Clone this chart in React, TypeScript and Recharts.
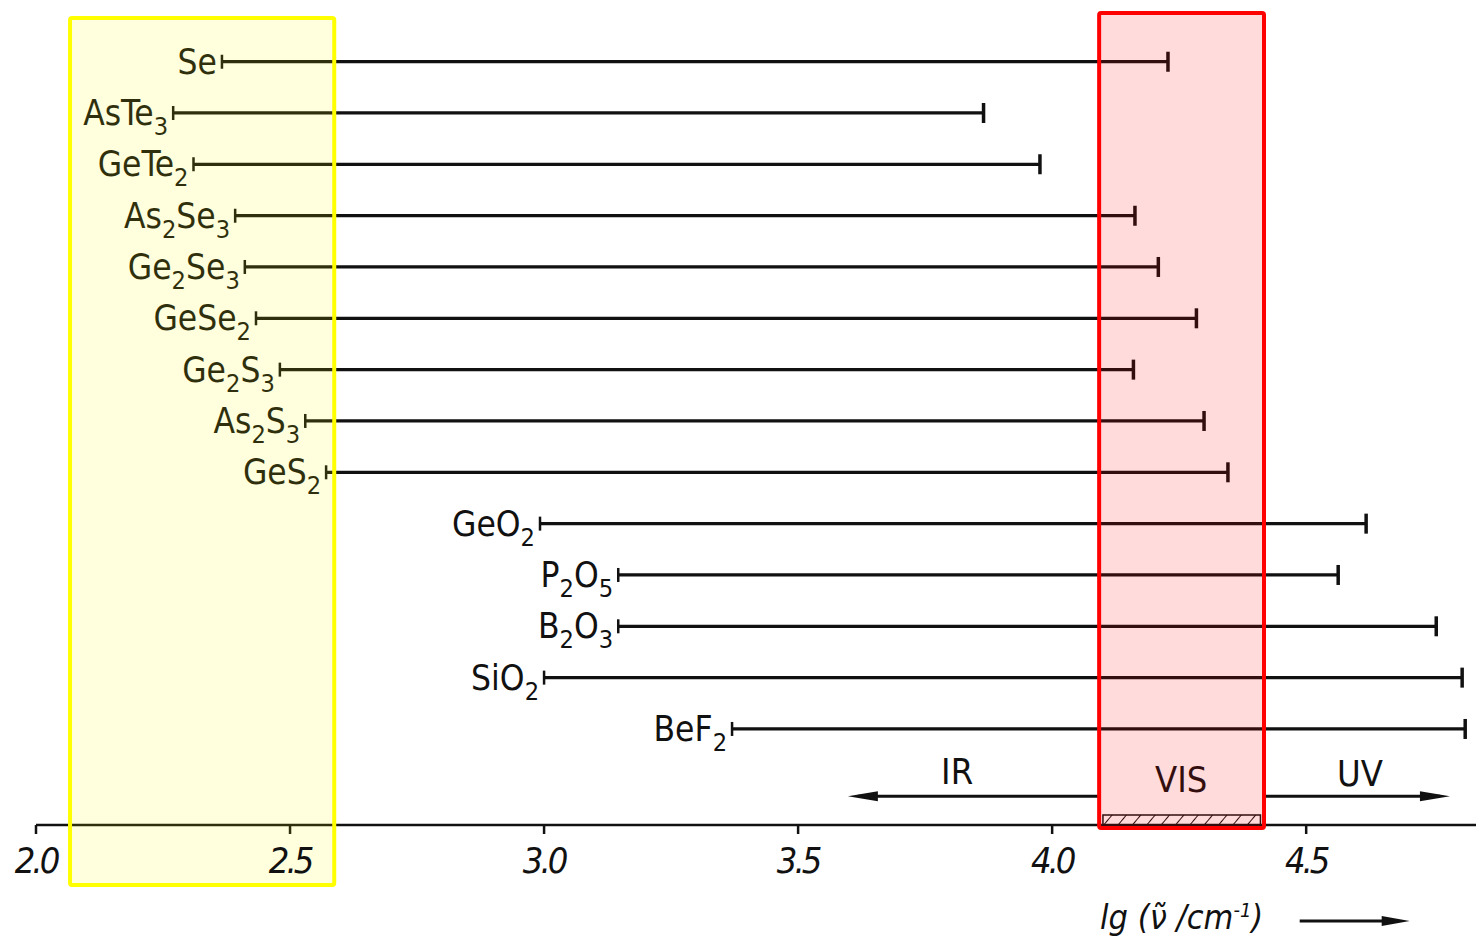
import { ComposedChart, Bar, XAxis, YAxis, ReferenceArea, ReferenceLine, ReferenceDot } from "recharts";

// transmission ranges, lg(wavenumber / cm^-1)
const glasses = ["Se", "AsTe3", "GeTe2", "As2Se3", "Ge2Se3", "GeSe2", "Ge2S3", "As2S3", "GeS2", "GeO2", "P2O5", "B2O3", "SiO2", "BeF2"];
const lowEdge = [2.366, 2.27, 2.31, 2.392, 2.411, 2.433, 2.48, 2.53, 2.571, 2.992, 3.146, 3.146, 3.0, 3.37];
const highEdge = [4.228, 3.865, 3.976, 4.163, 4.209, 4.284, 4.16, 4.299, 4.346, 4.618, 4.563, 4.756, 4.807, 4.813];
const xTicks = [2.0, 2.5, 3.0, 3.5, 4.0, 4.5];

// spectral regions
const irArrow = [4.094, 3.598];
const uvArrow = [4.417, 4.783];
const visBand = [4.1, 4.41];
const regionLabels = ["IR", "VIS", "UV"];
const regionLabelAt = [3.813, 4.254, 4.606];

// highlight boxes
const farIrBox = [2.067, 2.587];
const visBox = [4.0925, 4.417];

const X_MIN = 2;
const X_MAX = 4.85;
const INK = "#111";
const FONT = "'DejaVu Sans Condensed', 'Liberation Sans Narrow', 'Liberation Sans', Arial, sans-serif";
const ANN_ROW = "regions";
const PAD_BOTTOM = 19;

const rows = [
  ...glasses.map((name, i) => ({ name, range: [lowEdge[i], highEdge[i]] })),
  { name: ANN_ROW, range: null },
];

// chemical formula with subscript digits
function Formula({ text, x, y, size = 35 }: { text: string; x: number; y: number; size?: number }) {
  const parts = text.match(/[A-Za-z]+|\d+/g) || [];
  let down = false;
  return (
    <text x={x} y={y} textAnchor="end" fontFamily={FONT} fill={INK}>
      {parts.map((p, i) => {
        const sub = /\d/.test(p);
        const dy = sub ? (down ? 0 : 10) : down ? -10 : 0;
        down = sub;
        return (
          <tspan key={i} dy={dy} fontSize={sub ? size * 0.72 : size}>
            {p}
          </tspan>
        );
      })}
    </text>
  );
}

const GlassBar = (props: any) => {
  const { x, y, width, height, payload } = props;
  if (!payload || !payload.range) return null;
  const cy = y + height / 2;
  const x2 = x + width;
  return (
    <g>
      <line x1={x} y1={cy} x2={x2} y2={cy} stroke={INK} strokeWidth={3.2} />
      <line x1={x} y1={cy - 7} x2={x} y2={cy + 7} stroke={INK} strokeWidth={2.5} />
      <line x1={x2} y1={cy - 10} x2={x2} y2={cy + 10} stroke={INK} strokeWidth={3.5} />
      <Formula text={payload.name} x={x - 5} y={cy + 12} />
    </g>
  );
};

const Arrow = (props: any) => {
  const { x1, y1, x2, y2 } = props;
  const dir = x2 > x1 ? 1 : -1;
  const yy1 = y1 + 16;
  const yy2 = y2 + 16;
  return (
    <g>
      <line x1={x1} y1={yy1} x2={x2 - dir * 10} y2={yy2} stroke={INK} strokeWidth={3} />
      <polygon points={`${x2},${yy2} ${x2 - dir * 30},${yy2 - 5} ${x2 - dir * 30},${yy2 + 5}`} fill={INK} />
    </g>
  );
};

const regionText = (label: string, dy: number) => (props: any) => (
  <text x={props.cx} y={props.cy + dy} textAnchor="middle" dominantBaseline="central" fontFamily={FONT} fontSize={36} fill={INK}>
    {label}
  </text>
);
const regionDy = [-9, -1, -7];

// hatched strip sitting on the axis
const Hatch = (props: any) => {
  const { x, y, width, height } = props;
  const bottom = y + height + PAD_BOTTOM;
  return (
    <g>
      <defs>
        <pattern id="hatch" width="11" height="11" patternUnits="userSpaceOnUse" patternTransform="rotate(40)">
          <line x1="0" y1="0" x2="0" y2="11" stroke={INK} strokeWidth={2} />
        </pattern>
      </defs>
      <rect x={x} y={bottom - 10} width={width} height={10} fill="url(#hatch)" stroke={INK} strokeWidth={1.5} />
    </g>
  );
};

// translucent highlight box that runs past the plot area
const boxShape = (color: string, opacity: number, above: number, below: number) => (props: any) => {
  const { x, y, width, height } = props;
  return (
    <rect
      x={x}
      y={y - above}
      width={width}
      height={height + above + PAD_BOTTOM + below}
      rx={2}
      fill={color}
      fillOpacity={opacity}
      stroke={color}
      strokeWidth={4}
    />
  );
};

const Tick = ({ x, y, payload }: any) => (
  <text x={x} y={y + 37} textAnchor="middle" fontFamily={FONT} fontStyle="italic" fontSize={36} letterSpacing={-3} fill={INK}>
    {Number(payload.value).toFixed(1)}
  </text>
);

const AxisTitle = ({ viewBox }: any) => {
  const cx = viewBox.x + ((4.255 - X_MIN) / (X_MAX - X_MIN)) * viewBox.width;
  const base = viewBox.y + 104;
  return (
    <g>
      <text x={cx} y={base} textAnchor="middle" fontFamily={FONT} fontStyle="italic" fontSize={34} fill={INK}>
        lg (ν̃ /cm<tspan dy={-12} fontSize={20}>-1</tspan>
        <tspan dy={12}>)</tspan>
      </text>
      <line x1={cx + 118} y1={base - 8} x2={cx + 210} y2={base - 8} stroke={INK} strokeWidth={3} />
      <polygon points={`${cx + 228},${base - 8} ${cx + 200},${base - 13} ${cx + 200},${base - 3}`} fill={INK} />
    </g>
  );
};

export default function App() {
  return (
    <div style={{ width: 1476, height: 931, fontFamily: FONT }}>
      <ComposedChart layout="vertical" width={1476} height={931} data={rows} margin={{ top: 28, right: 0, bottom: 14, left: 28 }}>
        <XAxis
          type="number"
          domain={[X_MIN, X_MAX]}
          ticks={xTicks}
          allowDataOverflow
          height={100}
          stroke={INK}
          axisLine={{ stroke: INK, strokeWidth: 2.5 }}
          tickLine={{ stroke: INK, strokeWidth: 2.5 }}
          tickSize={9}
          tick={<Tick />}
          label={<AxisTitle />}
        />
        <YAxis type="category" dataKey="name" hide padding={{ top: 0, bottom: PAD_BOTTOM }} />
        <Bar dataKey="range" shape={<GlassBar />} isAnimationActive={false} />

        <ReferenceArea x1={visBand[0]} x2={visBand[1]} ifOverflow="visible" shape={<Hatch />} />
        <ReferenceLine segment={[{ x: irArrow[0], y: ANN_ROW }, { x: irArrow[1], y: ANN_ROW }]} ifOverflow="visible" shape={<Arrow />} />
        <ReferenceLine segment={[{ x: uvArrow[0], y: ANN_ROW }, { x: uvArrow[1], y: ANN_ROW }]} ifOverflow="visible" shape={<Arrow />} />
        {regionLabels.map((label, i) => (
          <ReferenceDot key={label} x={regionLabelAt[i]} y={ANN_ROW} ifOverflow="visible" shape={regionText(label, regionDy[i])} />
        ))}

        <ReferenceArea x1={farIrBox[0]} x2={farIrBox[1]} ifOverflow="visible" shape={boxShape("#ffff00", 0.13, 18, 60)} zIndex={1000} />
        <ReferenceArea x1={visBox[0]} x2={visBox[1]} ifOverflow="visible" shape={boxShape("#ff0000", 0.14, 23, 3)} zIndex={1000} />
      </ComposedChart>
    </div>
  );
}
